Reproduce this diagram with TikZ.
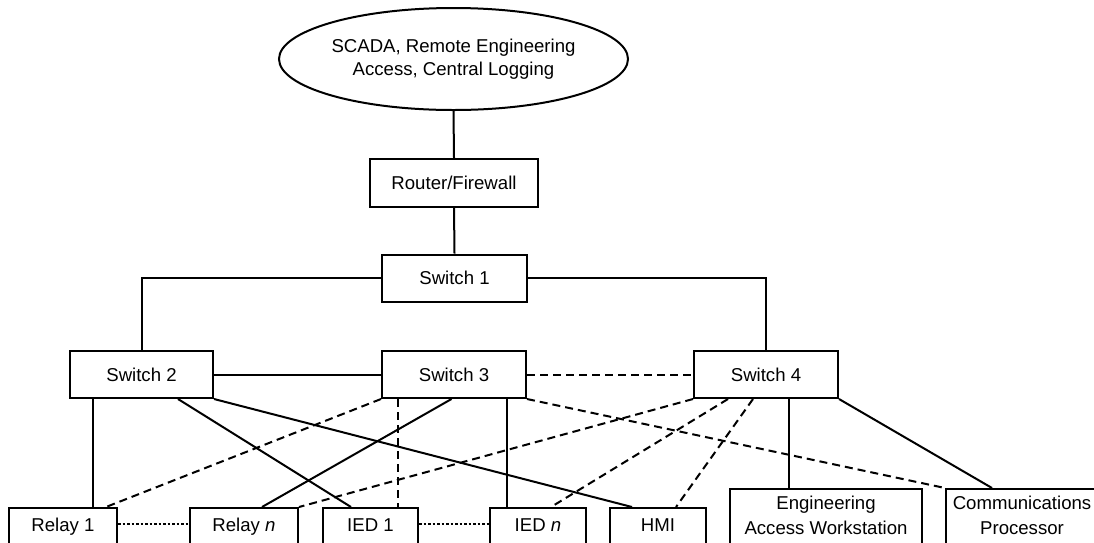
\documentclass[tikz,border=0pt]{standalone}
\usepackage{fontspec}
\setmainfont{Liberation Sans}
\usetikzlibrary{shapes.geometric}
\begin{document}
\begin{tikzpicture}[x=1pt,y=-1pt,
  every node/.style={font=\fontsize{18.6pt}{22.5pt}\selectfont},
  conn/.style={line width=2pt},
  dashconn/.style={conn, dash pattern=on 8pt off 5pt},
  dotconn/.style={conn, dash pattern=on 2.5pt off 2pt},
  box/.style={draw, line width=2pt, rectangle, inner sep=0pt, text height=13.4pt, text depth=0pt},
  botbox/.style={draw, line width=2pt, rectangle, inner sep=0pt, anchor=north, text height=23pt, text depth=30pt},
  twobox/.style={draw, line width=2pt, rectangle, inner sep=0pt, anchor=north, align=center,
    font=\fontsize{18.6pt}{25pt}\selectfont, text height=45pt, text depth=40pt},
  cloudnode/.style={draw, ellipse, line width=2pt, inner sep=0pt, align=center},
]
\useasboundingbox (0,0) rectangle (1094,542);

\node[cloudnode, minimum width=349pt, minimum height=102pt] (cloud) at (453.5,59)
  {SCADA, Remote Engineering\\Access, Central Logging};
\node[box, minimum width=168pt, minimum height=48pt] (router) at (454,183) {Router/Firewall};
\node[box, minimum width=145pt, minimum height=47pt] (sw1) at (454.5,278) {Switch 1};
\node[box, minimum width=143pt, minimum height=47pt] (sw2) at (141.5,374.5) {Switch 2};
\node[box, minimum width=144pt, minimum height=47pt] (sw3) at (454,374.5) {Switch 3};
\node[box, minimum width=144pt, minimum height=47pt] (sw4) at (766,374.5) {Switch 4};

\node[botbox, minimum width=108pt] (relay1) at (63,507) {Relay 1};
\node[botbox, minimum width=108pt] (relayn) at (244,507) {Relay \textit{n}};
\node[botbox, minimum width=95pt] (ied1) at (370.5,507) {IED 1};
\node[botbox, minimum width=96pt] (iedn) at (538,507) {IED \textit{n}};
\node[botbox, minimum width=96pt] (hmi) at (658,507) {HMI};
\node[twobox, minimum width=192pt] (eng) at (826,488) {Engineering\\Access Workstation};
\node[twobox, minimum width=152pt] (comm) at (1022,488) {Communications\\Processor};

\draw[conn] (cloud.south) -- (router.north);
\draw[conn] (router.south) -- (sw1.north);
\draw[conn] (sw1.west) -| (sw2.north);
\draw[conn] (sw1.east) -| (sw4.north);
\draw[conn] (sw2.east) -- (sw3.west);
\draw[dashconn] (sw3.east) -- (sw4.west);

\draw[conn] ([xshift=24pt]sw2.south west) -- ([xshift=85pt]relay1.north west);
\draw[conn] ([xshift=109pt]sw2.south west) -- ([xshift=29pt]ied1.north west);
\draw[conn] (sw2.south east) -- ([xshift=23pt]hmi.north west);

\draw[dashconn] (sw3.south west) -- ([xshift=98pt]relay1.north west);
\draw[dashconn] ([xshift=17pt]sw3.south west) -- ([xshift=76pt]ied1.north west);
\draw[conn] ([xshift=70.5pt]sw3.south west) -- ([xshift=73pt]relayn.north west);
\draw[conn] ([xshift=126pt]sw3.south west) -- ([xshift=18pt]iedn.north west);
\draw[dashconn] (sw3.south east) -- (comm.north west);

\draw[dashconn] (sw4.south west) -- (relayn.north east);
\draw[dashconn] ([xshift=35pt]sw4.south west) -- ([xshift=62pt]iedn.north west);
\draw[dashconn] ([xshift=60pt]sw4.south west) -- ([xshift=67pt]hmi.north west);
\draw[conn] ([xshift=96pt]sw4.south west) -- ([xshift=60pt]eng.north west);
\draw[conn] (sw4.south east) -- ([xshift=47pt]comm.north west);

\draw[dotconn] ([yshift=6.7pt]relay1.base east) -- ([yshift=6.7pt]relayn.base west);
\draw[dotconn] ([yshift=6.7pt]ied1.base east) -- ([yshift=6.7pt]iedn.base west);
\end{tikzpicture}
\end{document}
